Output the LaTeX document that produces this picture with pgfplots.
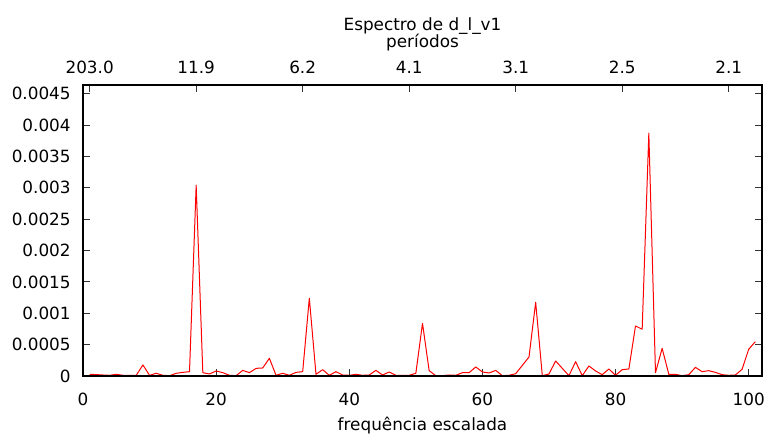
\documentclass[border=0pt]{standalone}
\usepackage{fontspec}
\setmainfont{DejaVu Sans}
\usepackage{pgfplots}
\pgfplotsset{compat=1.18}
\usepackage{pgfplotstable}

% periodogram ordinates at scaled frequencies 1..101
\pgfplotstableread{
f  p
1   0.000027
2   0.000022
3   0.000016
4   0.000011
5   0.000027
6   0.000011
7   0.000011
8   0.000011
9   0.000176
10  0.000011
11  0.000043
12  0.000011
13  0.000005
14  0.000043
15  0.000058
16  0.000069
17  0.003043
18  0.000053
19  0.000032
20  0.000080
21  0.000053
22  0.000011
23  0.000005
24  0.000090
25  0.000053
26  0.000122
27  0.000128
28  0.000282
29  0.000011
30  0.000043
31  0.000011
32  0.000058
33  0.000069
34  0.001240
35  0.000027
36  0.000101
37  0.000011
38  0.000069
39  0.000016
40  0.000011
41  0.000027
42  0.000011
43  0.000016
44  0.000090
45  0.000016
46  0.000064
47  0.000011
48  0.000011
49  0.000011
50  0.000043
51  0.000840
52  0.000085
53  0.000005
54  0.000005
55  0.000016
56  0.000011
57  0.000053
58  0.000053
59  0.000144
60  0.000064
61  0.000048
62  0.000090
63  0.000005
64  0.000011
65  0.000037
66  0.000170
67  0.000303
68  0.001176
69  0.000005
70  0.000032
71  0.000239
72  0.000122
73  0.000005
74  0.000229
75  0.000005
76  0.000160
77  0.000080
78  0.000021
79  0.000112
80  0.000011
81  0.000101
82  0.000112
83  0.000798
84  0.000745
85  0.003873
86  0.000053
87  0.000441
88  0.000027
89  0.000027
90  0.000005
91  0.000021
92  0.000138
93  0.000069
94  0.000085
95  0.000058
96  0.000021
97  0.000011
98  0.000016
99  0.000106
100 0.000426
101 0.000548
}\spectrum

\pgfplotsset{
  specbase/.style={
    width=407.4pt, height=174.6pt, scale only axis,
    at={(0,0)}, anchor=south west,
    xmin=0, xmax=102, ymin=0, ymax=0.00464,
    scaled x ticks=false, scaled y ticks=false,
    axis line style={line width=0.7pt, black},
    major tick length=4.2pt,
    tick style={line width=0.6pt, black!80},
    clip mode=individual,
    /pgf/number format/assume math mode=true,
  }
}

\begin{document}
\begin{tikzpicture}[font=\fontsize{10.1pt}{12pt}\selectfont]
\path[use as bounding box] (-49.8pt,-36.6pt) rectangle (411pt,225.6pt);

% main axis: frequency below, spectrum on the left
\begin{axis}[specbase,
  xtick={0,20,40,60,80,100},
  xticklabels={0,20,40,60,80,100},
  xtick pos=lower,
  xticklabel style={anchor=north, inner sep=0pt, yshift=-10.2pt},
  ytick={0,0.0005,0.001,0.0015,0.002,0.0025,0.003,0.0035,0.004,0.0045},
  yticklabels={0,0.0005,0.001,0.0015,0.002,0.0025,0.003,0.0035,0.004,0.0045},
  ytick pos=both, yticklabel pos=left,
  yticklabel style={anchor=east, inner sep=0pt, xshift=-7.2pt},
  xlabel={frequência escalada},
  xlabel style={at={(axis description cs:0.5,0)}, anchor=base, yshift=-32.4pt},
]
\addplot[red, line width=0.6pt, line join=round] table[x=f, y=p] {\spectrum};
\node[anchor=base, inner sep=0pt] at ([yshift=32.4pt]axis description cs:0.5,1) {Espectro de d\_l\_v1};
\node[anchor=base, inner sep=0pt] at ([yshift=22.2pt]axis description cs:0.5,1) {períodos};
\end{axis}

% secondary axis: periods along the top
\begin{axis}[specbase,
  xtick={1,17,33,49,65,81,97},
  xticklabels={203.0,11.9,6.2,4.1,3.1,2.5,2.1},
  xtick pos=upper, xticklabel pos=upper,
  xticklabel style={anchor=south, inner sep=0pt, yshift=6.6pt},
  ytick=\empty,
]
\end{axis}
\end{tikzpicture}
\end{document}
